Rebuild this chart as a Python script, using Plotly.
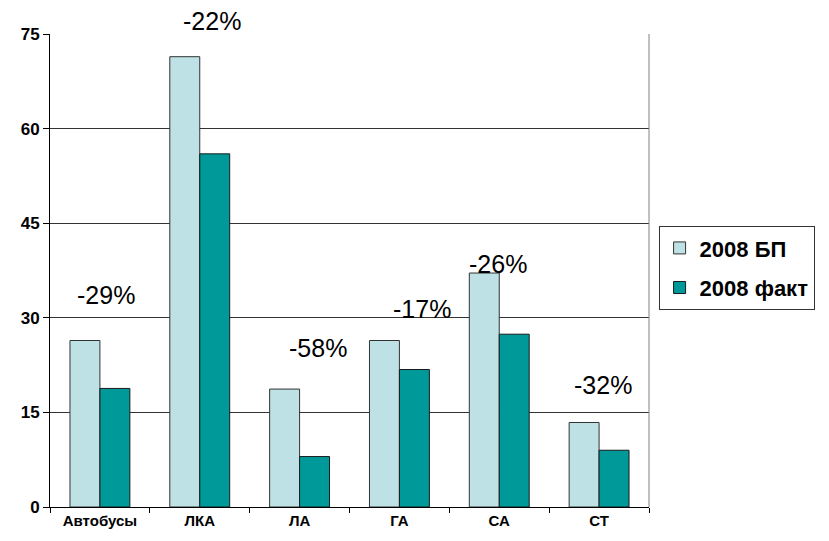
import plotly.graph_objects as go

categories = ["Автобусы", "ЛКА", "ЛА", "ГА", "СА", "СТ"]
plan_2008 = [26.4, 71.4, 18.7, 26.4, 37.1, 13.4]
fact_2008 = [18.8, 56.0, 8.0, 21.8, 27.4, 9.0]
change_labels = ["-29%", "-22%", "-58%", "-17%", "-26%", "-32%"]
y_ticks = [0, 15, 30, 45, 60, 75]

FONT = "Arial, 'Liberation Sans', sans-serif"

fig = go.Figure()
fig.add_trace(go.Bar(
    x=categories, y=plan_2008, name="2008 БП", legendgroup="plan",
    marker=dict(color="#BDE1E4", line=dict(color="#333333", width=1)),
))
fig.add_trace(go.Bar(
    x=categories, y=fact_2008, name="2008 факт", legendgroup="fact",
    marker=dict(color="#009999", line=dict(color="#1a1a1a", width=1)),
))

# label placement (pixel offsets relative to the plan bar top)
label_dx = [6, 12, 18, 23, -1, 4]
label_dy = [46, 36, 41, 32, 9, 37]
for cat, val, txt, dx, dy in zip(categories, plan_2008, change_labels, label_dx, label_dy):
    fig.add_annotation(
        x=cat, y=val, text=txt, showarrow=False,
        xshift=dx, yshift=dy, yanchor="middle",
        font=dict(family=FONT, size=25, color="#000000"),
    )

fig.add_shape(type="line", xref="paper", yref="paper", x0=1, x1=1, y0=0, y1=1,
              line=dict(color="#808080", width=1))

fig.update_layout(
    width=829, height=541,
    margin=dict(l=50, r=180, t=34, b=34),
    paper_bgcolor="white", plot_bgcolor="white",
    barmode="group", bargap=0.4, bargroupgap=0,
    font=dict(family=FONT, color="#000000"),
    showlegend=True,
    legend=dict(
        x=1.016, xanchor="left", y=0.505, yanchor="middle",
        bordercolor="#333333", borderwidth=1,
        font=dict(family=FONT, size=22, color="#000000", weight="bold"),
        itemwidth=30, tracegroupgap=8,
    ),
    xaxis=dict(
        showline=True, linecolor="#000000", linewidth=1,
        ticks="outside", ticklen=5, tickcolor="#000000", tickson="boundaries",
        tickfont=dict(family=FONT, size=15, color="#000000", weight="bold"),
        showgrid=False,
    ),
    yaxis=dict(
        range=[0, 75], tickvals=y_ticks,
        showline=True, linecolor="#000000", linewidth=1,
        ticks="outside", ticklen=6, tickcolor="#000000",
        tickfont=dict(family=FONT, size=17, color="#000000", weight="bold"),
        showgrid=True, gridcolor="#333333", gridwidth=1,
        zeroline=False,
    ),
)

fig.write_html("out.html")
